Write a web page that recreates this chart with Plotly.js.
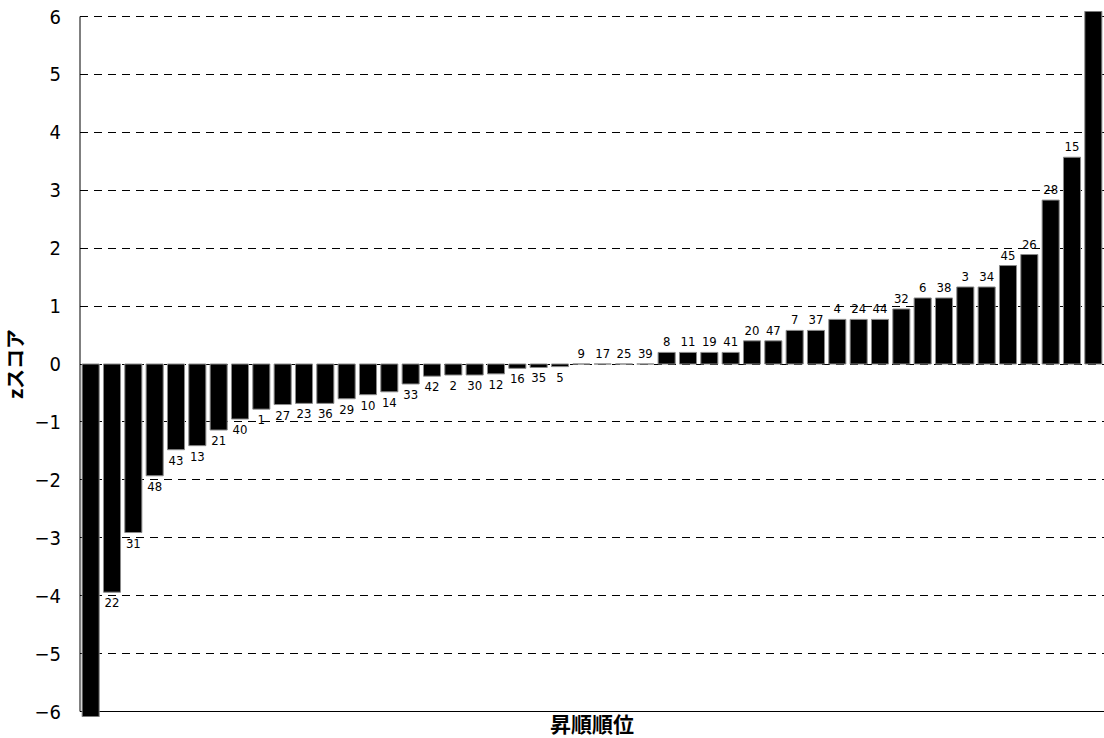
<!DOCTYPE html>
<html>
<head>
<meta charset="utf-8">
<script src="https://cdn.plot.ly/plotly-3.0.1.min.js"></script>
<style>html,body{margin:0;padding:0;background:#fff;}#chart{width:1104px;height:738px;}</style>
</head>
<body>
<div id="chart"></div>
<script>
// item ids shown as bar labels (first and last bars carry no visible label)
const itemLabels = ["", "22", "31", "48", "43", "13", "21", "40", "1", "27", "23", "36", "29", "10", "14", "33",
  "42", "2", "30", "12", "16", "35", "5", "9", "17", "25", "39", "8", "11", "19", "41", "20", "47", "7", "37",
  "4", "24", "44", "32", "6", "38", "3", "34", "45", "26", "28", "15", ""];
// z-scores in ascending order
const zScores = [-6.09, -3.94, -2.91, -1.93, -1.48, -1.41, -1.14, -0.95, -0.78, -0.70, -0.68, -0.68, -0.60, -0.53,
  -0.48, -0.345, -0.21, -0.19, -0.19, -0.17, -0.075, -0.06, -0.045, 0, 0, 0, 0, 0.20, 0.20, 0.20, 0.20, 0.40, 0.40,
  0.58, 0.58, 0.77, 0.77, 0.77, 0.95, 1.14, 1.14, 1.33, 1.33, 1.70, 1.89, 2.83, 3.57, 6.09];
const yTicks = [-6, -5, -4, -3, -2, -1, 0, 1, 2, 3, 4, 5, 6];
const yTickText = ["−6", "−5", "−4", "−3", "−2", "−1", "0", "1", "2", "3", "4", "5", "6"];
const xTitle = "昇順順位";
const yTitle = "zスコア";

const ranks = zScores.map((_, i) => i + 1);
const yMin = -6, yMax = 6, over = 0.095;
const narrow = '"DejaVu Sans Condensed", "Liberation Sans", Arial, sans-serif';

const trace = {
  type: 'bar',
  x: ranks,
  y: zScores,
  text: itemLabels,
  textposition: 'outside',
  constraintext: 'none',
  cliponaxis: false,
  textfont: {family: narrow, size: 13, color: '#000'},
  marker: {color: '#000', line: {color: '#8a8a8a', width: 1}},
  hoverinfo: 'none'
};

const layout = {
  width: 1104, height: 738,
  margin: {l: 80, r: 0, t: 11, b: 21},
  paper_bgcolor: '#fff', plot_bgcolor: '#fff',
  showlegend: false,
  bargap: 0.2,
  font: {family: narrow, color: '#000'},
  xaxis: {
    range: [0.5, zScores.length + 0.5],
    showticklabels: false, ticks: '', showgrid: false, zeroline: false,
    showline: false,
    title: {text: xTitle, standoff: 0, font: {family: '"Noto Sans CJK JP", sans-serif', size: 21, weight: 'bold'}},
    automargin: false, fixedrange: true
  },
  yaxis: {
    range: [yMin - over, yMax + over],
    tickvals: yTicks, ticktext: yTickText,
    tickfont: {size: 20, family: narrow},
    ticks: 'outside', ticklen: 14, tickcolor: 'rgba(0,0,0,0)',
    showgrid: true, gridcolor: '#000', gridwidth: 1, griddash: '8px,6px',
    zeroline: false,
    showline: false,
    title: {text: yTitle, standoff: 12, font: {family: '"Noto Sans CJK JP", sans-serif', size: 20, weight: 'bold'}},
    automargin: false, fixedrange: true
  },
  shapes: [
    {type: 'line', xref: 'paper', yref: 'y', x0: 0, x1: 1, y0: yMin, y1: yMin, line: {color: '#000', width: 1}, layer: 'below'},
    {type: 'line', xref: 'paper', yref: 'y', x0: 0, x1: 0, y0: yMin, y1: yMax, line: {color: '#000', width: 1}, layer: 'below'}
  ]
};

Plotly.newPlot('chart', [trace], layout, {staticPlot: true, displayModeBar: false});
</script>
</body>
</html>
